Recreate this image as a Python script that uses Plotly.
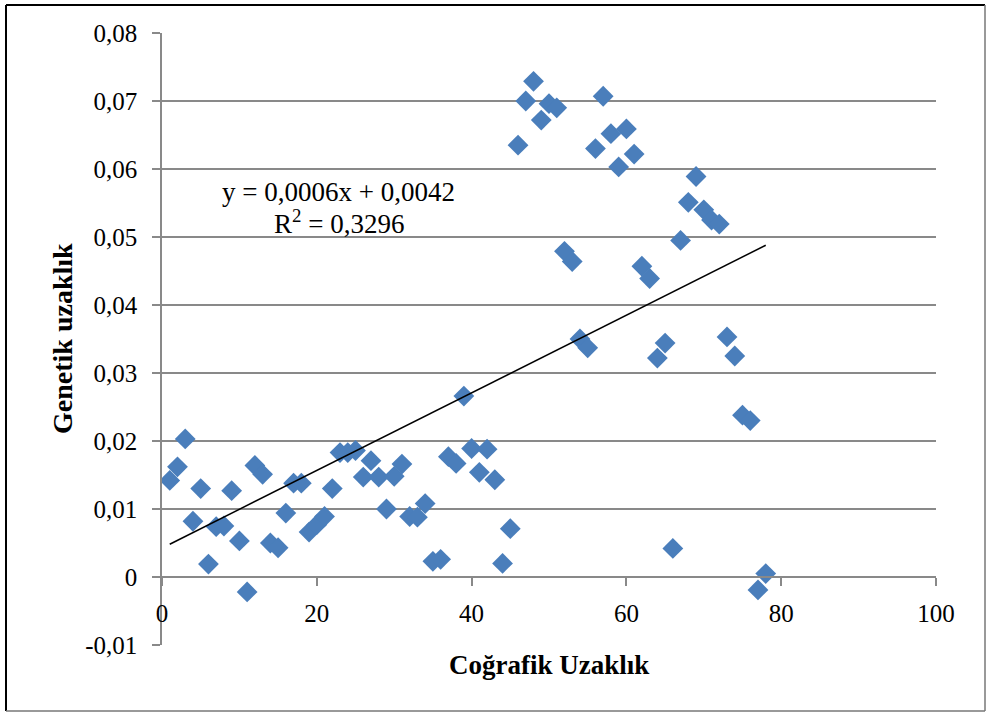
import numpy as np
import plotly.graph_objects as go

# Coğrafik uzaklık (x) ve genetik uzaklık (y)
cografik = list(range(1, 79))
genetik = [
    0.0142, 0.0162, 0.0203, 0.0082, 0.0130, 0.0019, 0.0074, 0.0075, 0.0127, 0.0053,
    -0.0022, 0.0164, 0.0151, 0.0050, 0.0043, 0.0094, 0.0138, 0.0138, 0.0066, 0.0077,
    0.0089, 0.0130, 0.0183, 0.0183, 0.0186, 0.0147, 0.0171, 0.0147, 0.0100, 0.0148,
    0.0166, 0.0089, 0.0088, 0.0108, 0.0023, 0.0026, 0.0177, 0.0167, 0.0266, 0.0189,
    0.0154, 0.0188, 0.0143, 0.0020, 0.0071, 0.0635, 0.0700, 0.0729, 0.0672, 0.0696,
    0.0690, 0.0479, 0.0464, 0.0350, 0.0337, 0.0630, 0.0707, 0.0652, 0.0603, 0.0659,
    0.0622, 0.0457, 0.0439, 0.0322, 0.0344, 0.0042, 0.0495, 0.0551, 0.0589, 0.0540,
    0.0525, 0.0519, 0.0353, 0.0325, 0.0238, 0.0230, -0.0019, 0.0005,
]

y_tickvals = [-0.01, 0, 0.01, 0.02, 0.03, 0.04, 0.05, 0.06, 0.07, 0.08]
y_ticktext = ["-0,01", "0", "0,01", "0,02", "0,03", "0,04", "0,05", "0,06", "0,07", "0,08"]
x_tickvals = [0, 20, 40, 60, 80, 100]
x_ticktext = ["0", "20", "40", "60", "80", "100"]

equation_text = "y = 0,0006x + 0,0042"
r2_text = "R<sup>2</sup> = 0,3296"

x_arr = np.array(cografik, dtype=float)
y_arr = np.array(genetik)
slope, intercept = np.polyfit(x_arr, y_arr, 1)
trend_x = [x_arr.min(), x_arr.max()]
trend_y = [slope * v + intercept for v in trend_x]

FONT = "Liberation Serif"
GRID = "#898989"

fig = go.Figure()
fig.add_trace(go.Scatter(
    x=cografik, y=genetik, mode="markers",
    marker=dict(symbol="diamond", size=16, color="#4A7EBB", line=dict(width=0)),
    showlegend=False, hoverinfo="skip",
))
fig.add_trace(go.Scatter(
    x=trend_x, y=trend_y, mode="lines",
    line=dict(color="black", width=1.5), showlegend=False, hoverinfo="skip",
))

W, H = 987, 713
L, R, T, B = 162, 51, 33, 68
ph = H - T - B
pw = W - L - R
y0_frac = (0 - (-0.01)) / 0.09


def px_x(px):
    return (px - L) / pw


def px_y(py):
    return (T + ph - py) / ph


fig.update_layout(
    width=W, height=H,
    margin=dict(l=L, r=R, t=T, b=B, pad=0),
    paper_bgcolor="white", plot_bgcolor="white",
    font=dict(family=FONT, size=25, color="black"),
    xaxis=dict(
        range=[0, 100], tickvals=x_tickvals, ticktext=x_ticktext,
        showgrid=False, zeroline=False,
        showline=True, linecolor=GRID, linewidth=1.5,
        ticks="outside", ticklen=8, tickcolor=GRID, tickwidth=1.5,
        anchor="free", position=y0_frac,
        ticklabelstandoff=6,
        tickfont=dict(family=FONT, size=25, color="black"),
    ),
    yaxis=dict(
        range=[-0.01, 0.08], tickvals=y_tickvals, ticktext=y_ticktext,
        showgrid=True, gridcolor=GRID, gridwidth=1.5, zeroline=False,
        showline=True, linecolor=GRID, linewidth=1.5,
        ticks="outside", ticklen=8, tickcolor=GRID, tickwidth=1.5,
        ticklabelstandoff=10,
        tickfont=dict(family=FONT, size=25, color="black"),
    ),
    shapes=[
        dict(type="line", xref="paper", yref="paper",
             x0=px_x(6), x1=px_x(6), y0=px_y(711), y1=px_y(5),
             line=dict(color="black", width=2), layer="below"),
        dict(type="line", xref="paper", yref="paper",
             x0=px_x(6), x1=px_x(985), y0=px_y(5), y1=px_y(5),
             line=dict(color="black", width=2), layer="below"),
        dict(type="line", xref="paper", yref="paper",
             x0=px_x(985), x1=px_x(985), y0=px_y(711), y1=px_y(5),
             line=dict(color="#777777", width=1.5), layer="below"),
        dict(type="line", xref="paper", yref="paper",
             x0=px_x(6), x1=px_x(985), y0=px_y(711), y1=px_y(711),
             line=dict(color="#777777", width=1.5), layer="below"),
    ],
    annotations=[
        dict(text="<b>Genetik uzaklık</b>", textangle=-90, xref="paper", yref="paper",
             x=px_x(62), y=px_y(339), showarrow=False,
             font=dict(family=FONT, size=28, color="black"), xanchor="center", yanchor="middle"),
        dict(text="<b>Coğrafik Uzaklık</b>", xref="paper", yref="paper",
             x=0.5, y=px_y(665), showarrow=False,
             font=dict(family=FONT, size=27, color="black"), xanchor="center", yanchor="middle"),
        dict(text=equation_text, xref="paper", yref="paper",
             x=px_x(338), y=px_y(192), showarrow=False,
             font=dict(family=FONT, size=27, color="black"), xanchor="center", yanchor="middle"),
        dict(text=r2_text, xref="paper", yref="paper",
             x=px_x(339), y=px_y(222), showarrow=False,
             font=dict(family=FONT, size=27, color="black"), xanchor="center", yanchor="middle"),
    ],
)

fig.write_html(
    "out.html",
    config={"displayModeBar": False},
    post_script="document.body.style.margin='0';document.body.style.overflow='hidden';",
)
